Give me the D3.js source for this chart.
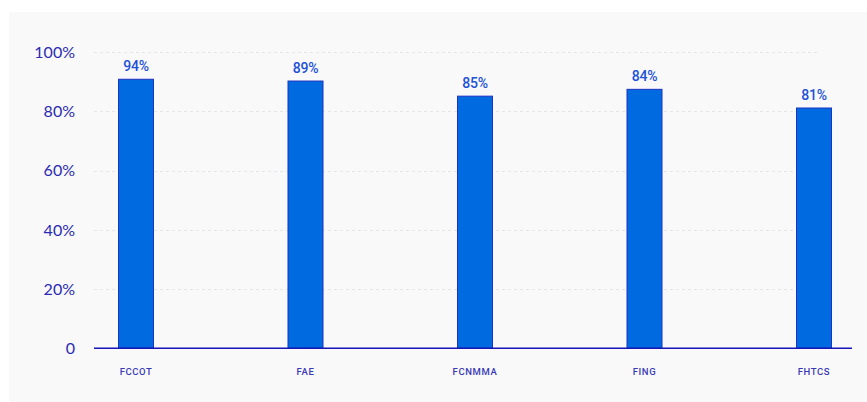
<!DOCTYPE html>
<html>
<head>
<meta charset="utf-8">
<script src="https://cdn.jsdelivr.net/npm/d3@7"></script>
<style>
html,body{margin:0;padding:0;background:#ffffff;}
svg{display:block;}
</style>
</head>
<body>
<svg id="chart" width="867" height="402"></svg>
<script>
const categories = ["FCCOT", "FAE", "FCNMMA", "FING", "FHTCS"];
const barValues = [90.8, 90.2, 85.1, 87.4, 81.1];
const barLabels = ["94%", "89%", "85%", "84%", "81%"];
const yTicks = [0, 20, 40, 60, 80, 100];
const yTickLabels = ["0", "20%", "40%", "60%", "80%", "100%"];

const svg = d3.select("#chart");
svg.append("rect").attr("x", 9).attr("y", 12).attr("width", 858).attr("height", 390).attr("fill", "#f9f9fa");

const y = d3.scaleLinear().domain([0, 100]).range([348.3, 52]);
const x = d3.scalePoint().domain(categories).range([136, 814]);
const barW = 35;

// gridlines
svg.append("g").selectAll("line").data(yTicks.filter(d => d > 0)).join("line")
  .attr("x1", 94).attr("x2", 818)
  .attr("y1", d => Math.round(y(d)) + 0.5).attr("y2", d => Math.round(y(d)) + 0.5)
  .attr("stroke", "#e6e6e9").attr("stroke-width", 1).attr("stroke-dasharray", "3,3");

// y labels
svg.append("g").selectAll("text").data(yTicks).join("text")
  .attr("x", 75).attr("y", d => y(d)).attr("dy", "0.36em")
  .attr("text-anchor", "end")
  .attr("font-family", "Lato, sans-serif").attr("font-size", 16)
  .attr("fill", "#2b2bb3")
  .text((d, i) => yTickLabels[i]);

// bars
svg.append("g").selectAll("rect").data(barValues).join("rect")
  .attr("x", (d, i) => x(categories[i]) - barW / 2)
  .attr("y", d => y(d))
  .attr("width", barW)
  .attr("height", d => y(0) - y(d))
  .attr("fill", "#006ae0")
  .attr("stroke", "#1f33c0").attr("stroke-width", 1);

// axis line
svg.append("line").attr("x1", 94).attr("x2", 852).attr("y1", y(0)).attr("y2", y(0))
  .attr("stroke", "#1515b8").attr("stroke-width", 1.5);

// value labels
svg.append("g").selectAll("text").data(barValues).join("text")
  .attr("x", (d, i) => x(categories[i]))
  .attr("y", d => y(d) - 8)
  .attr("text-anchor", "middle")
  .attr("font-family", "Roboto, sans-serif")
  .attr("font-size", 14).attr("font-weight", 500)
  .attr("letter-spacing", -0.3)
  .attr("fill", "#2151d8")
  .text((d, i) => barLabels[i]);

// x labels
svg.append("g").selectAll("text").data(categories).join("text")
  .attr("x", d => x(d)).attr("y", 375)
  .attr("text-anchor", "middle")
  .attr("font-family", "Roboto, sans-serif").attr("font-size", 9.5).attr("font-weight", 500)
  .attr("letter-spacing", 0.6)
  .attr("fill", "#3a3ab8")
  .text(d => d);
</script>
</body>
</html>
